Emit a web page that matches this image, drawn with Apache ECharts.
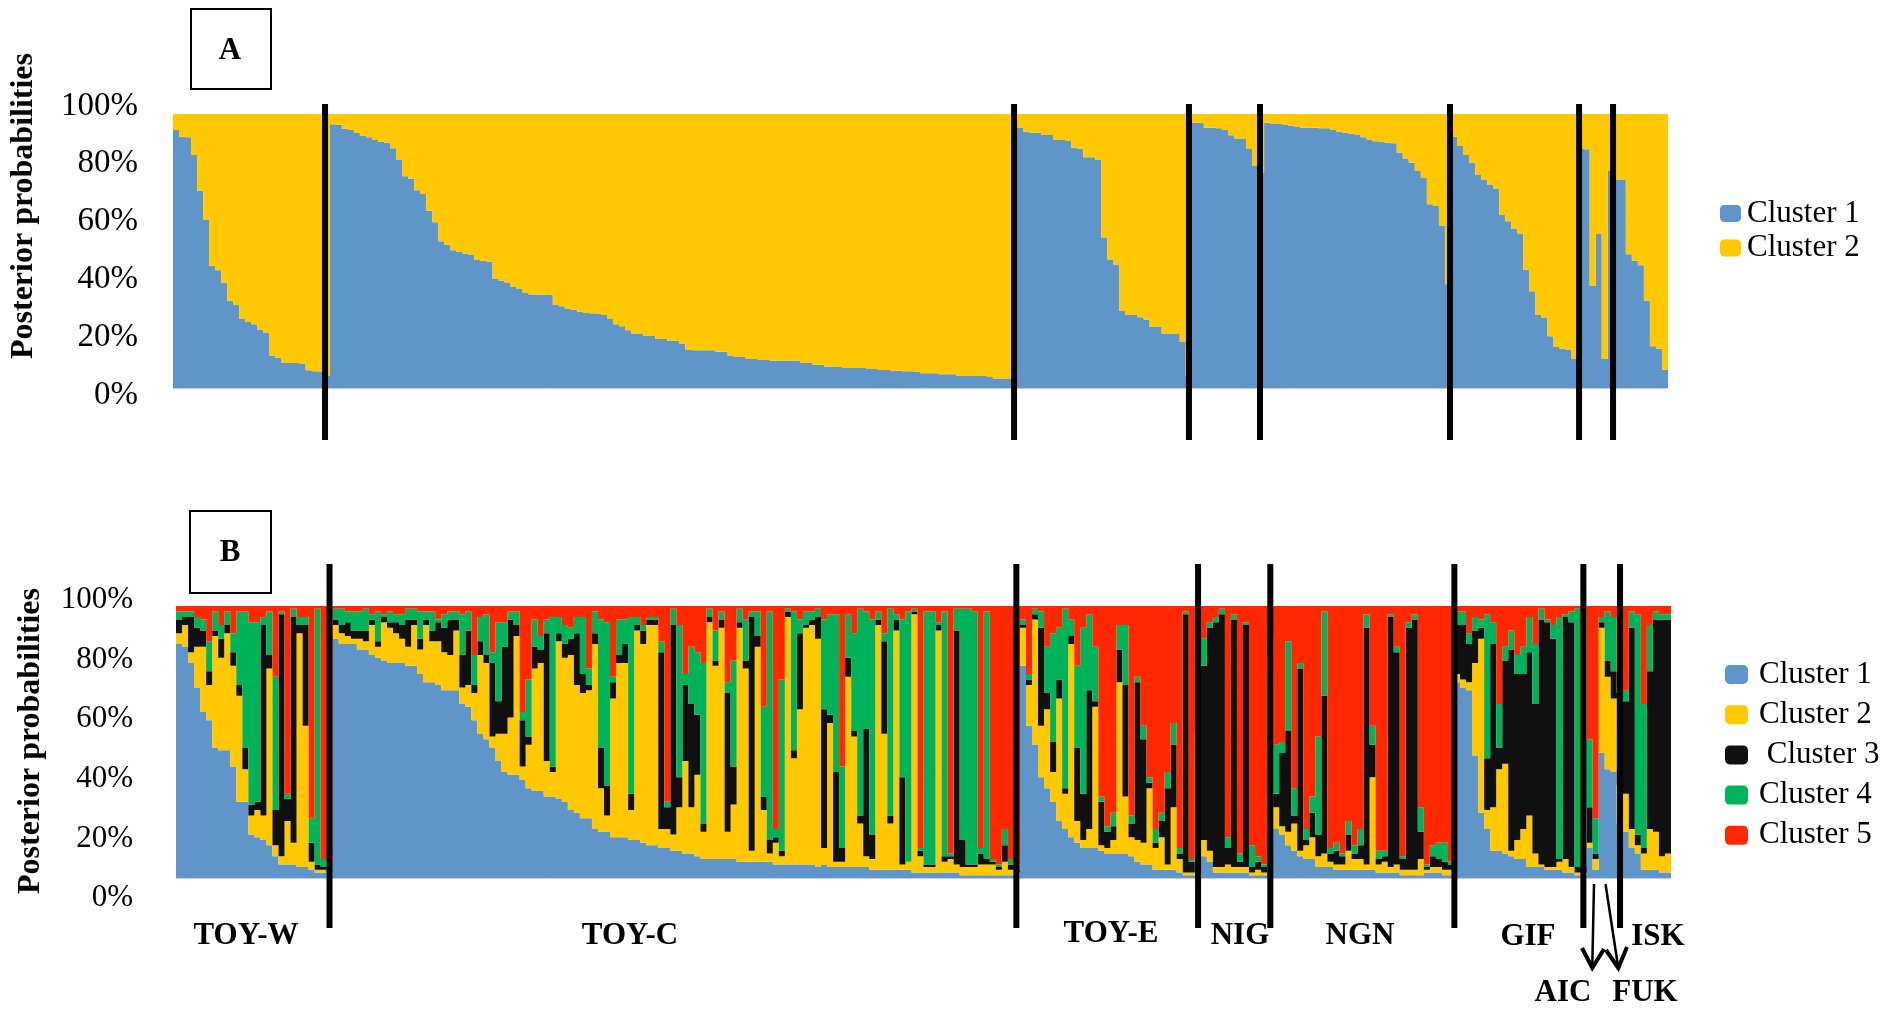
<!DOCTYPE html>
<html><head><meta charset="utf-8">
<script src="https://cdn.jsdelivr.net/npm/echarts@6/dist/echarts.min.js"></script>
<style>html,body{margin:0;padding:0;background:#fff}#main{width:1882px;height:1011px}</style>
</head><body><div id="main"></div>
<script>
// ---------- DATA ----------
const populations = ['TOY-W','TOY-C','TOY-E','NIG','NGN','GIF','AIC','FUK','ISK'];
const popSizes    = [26,114,29,12,31,21,3,3,9];
const yTickLabels = ['0%','20%','40%','60%','80%','100%'];
const clusterNamesA = ['Cluster 1','Cluster 2'];
const clusterNamesB = ['Cluster 1','Cluster 2',' Cluster 3','Cluster 4','Cluster 5'];

// Panel A (K = 2), posterior probability (%) per individual
const A_cluster1 = [
94.2,91.7,91.5,85.0,72.0,61.5,44.6,43.0,38.4,31.8,30.3,25.2,24.1,23.3,21.3,20.1,11.9,11.0,9.1,9.1,9.1,8.9,6.5,6.1,5.8,4.6,
96.3,96.1,94.6,94.2,93.1,92.0,91.5,90.5,89.9,89.5,87.5,83.4,77.3,76.4,72.2,70.8,64.7,60.5,53.6,52.3,50.3,49.7,49.1,48.5,46.7,46.4,46.2,39.8,39.1,38.5,36.9,36.1,34.7,34.1,34.0,33.9,33.9,30.3,29.8,29.0,28.6,27.8,27.4,27.3,27.2,26.6,25.2,23.3,22.5,21.1,19.9,19.7,19.1,19.0,17.9,17.9,
17.2,17.2,16.2,14.0,13.8,13.8,13.8,13.8,13.2,13.2,11.9,11.3,11.3,10.6,10.6,10.2,10.2,9.9,9.9,9.9,9.9,9.9,9.1,9.1,8.5,8.5,7.7,7.7,7.7,7.3,7.3,7.3,7.3,6.9,6.9,6.6,6.6,6.3,6.3,6.1,6.1,5.8,5.4,5.4,5.4,5.0,5.0,5.0,4.4,4.4,4.4,4.4,4.4,4.0,3.5,3.5,3.3,3.0,
95.1,93.5,93.2,93.2,92.3,92.3,90.5,90.5,90.3,87.7,87.3,84.2,84.2,83.2,54.9,46.9,45.1,28.1,26.6,26.6,25.8,25.0,22.3,22.3,19.9,19.9,19.9,16.8,4.5,
96.8,96.8,95.0,95.0,94.8,94.2,92.2,91.1,90.9,87.2,81.0,78.6,
96.8,96.5,96.5,96.2,95.7,95.4,95.0,95.0,95.0,94.8,94.8,94.2,93.5,93.2,92.8,92.3,91.5,90.7,90.1,89.9,89.5,89.3,85.9,83.8,82.2,79.2,76.6,67.1,66.4,59.3,37.9,
91.7,88.3,85.0,82.2,77.7,76.1,74.1,72.8,63.1,60.9,58.0,56.4,43.2,35.3,26.6,25.7,18.9,15.0,14.3,14.0,10.6,
87.5,87.1,37.3,
56.4,10.6,79.2,
76.1,76.1,48.8,46.4,44.8,31.8,15.2,14.3,6.7
];
const A_cluster2 = [
5.8,8.3,8.5,15.0,28.0,38.5,55.4,57.0,61.6,68.2,69.7,74.8,75.9,76.7,78.7,79.9,88.1,89.0,90.9,90.9,90.9,91.1,93.5,93.9,94.2,95.4,
3.7,3.9,5.4,5.8,6.9,8.0,8.5,9.5,10.1,10.5,12.5,16.6,22.7,23.6,27.8,29.2,35.3,39.5,46.4,47.7,49.7,50.3,50.9,51.5,53.3,53.6,53.8,60.2,60.9,61.5,63.1,63.9,65.3,65.9,66.0,66.1,66.1,69.7,70.2,71.0,71.4,72.2,72.6,72.7,72.8,73.4,74.8,76.7,77.5,78.9,80.1,80.3,80.9,81.0,82.1,82.1,
82.8,82.8,83.8,86.0,86.2,86.2,86.2,86.2,86.8,86.8,88.1,88.7,88.7,89.4,89.4,89.8,89.8,90.1,90.1,90.1,90.1,90.1,90.9,90.9,91.5,91.5,92.3,92.3,92.3,92.7,92.7,92.7,92.7,93.1,93.1,93.4,93.4,93.7,93.7,93.9,93.9,94.2,94.6,94.6,94.6,95.0,95.0,95.0,95.6,95.6,95.6,95.6,95.6,96.0,96.5,96.5,96.7,97.0,
4.9,6.5,6.8,6.8,7.7,7.7,9.5,9.5,9.7,12.3,12.7,15.8,15.8,16.8,45.1,53.1,54.9,71.9,73.4,73.4,74.2,75.0,77.7,77.7,80.1,80.1,80.1,83.2,95.5,
3.2,3.2,5.0,5.0,5.2,5.8,7.8,8.9,9.1,12.8,19.0,21.4,
3.2,3.5,3.5,3.8,4.3,4.6,5.0,5.0,5.0,5.2,5.2,5.8,6.5,6.8,7.2,7.7,8.5,9.3,9.9,10.1,10.5,10.7,14.1,16.2,17.8,20.8,23.4,32.9,33.6,40.7,62.1,
8.3,11.7,15.0,17.8,22.3,23.9,25.9,27.2,36.9,39.1,42.0,43.6,56.8,64.7,73.4,74.3,81.1,85.0,85.7,86.0,89.4,
12.5,12.9,62.7,
43.6,89.4,20.8,
23.9,23.9,51.2,53.6,55.2,68.2,84.8,85.7,93.3
];

// Panel B (K = 5)
const B_cluster1 = [
86,85,79,70,61,58,48,47,47,41,28,28,16,15,14,12,8,5,5,5,4,4,3,2,2,1,
88,86,86,86,84,84,82,81,80,79, 79,79,78,78,75,72,72,71,69,69, 69,64,63,58,53,51,48,43,39,38, 38,36,33,32,32,30,30,29,28,25, 24,22,22,18,17,17,15,15,15,14, 14,13,12,12,11,11,10,10,9,9, 8,7,7,7,7,7,7,6,6,6, 6,6,6,5,5,5,5,5,5,5, 4,5,4,4,4,4,4,4,4,3, 3,3,3,3,3,3,2,2,2,2, 2,2,2,2,1,1,1,1,1,1, 1,1,1,1,
78,56,49,37,33,28,21,18,15,13,11,11,11,10,9,9,9,9,8,6,5,5,3,3,3,3,2,1,1,
40,8,6,2,2,2,2,2,2,1,1,1,
72,18,16,12,10,8,7,7,4,4,4,3,3,3,3,3,3,3,2,2,2,2,1,1,1,1,2,2,2,1,1,
72,70,69,45,24,18,10,10,9,8,7,7,4,4,4,3,3,3,2,2,1,
1,11,3,
46,40,39,
20,17,11,9,3,3,3,2,2
];
const B_cluster2 = [
4,8,4,15,24,13,41,34,43,37,39,12,7,10,9,65,4,3,16,8,86,52,3,1,1,1,
5,4,3,2,4,3,11,4,14,13, 11,9,7,15,9,21,15,16,14,13, 22,6,8,10,29,28,4,10,14,21, 51,5,16,45,47,13,9,58,53,57, 47,46,47,68,16,6,51,64,64,11, 77,73,81,81,7,7,6,16,34,17, 30,10,87,71,85,10,20,86,71,4, 79,19,3,8,3,91,39,57,87,88, 84,6,53,2,2,70,48,16,4,4, 90,50,17,88,2,3,95,6,2,2, 89,4,5,3,3,3,3,4,4,4, 2,5,2,1,
14,15,46,19,29,11,45,13,71,8,3,7,52,2,2,5,63,21,7,8,8,28,8,12,2,23,5,1,1,
5,6,4,2,2,3,2,2,2,1,2,1,
10,8,3,5,10,2,5,8,4,5,2,2,2,7,4,4,2,34,3,4,2,3,2,2,2,6,1,2,2,2,2,
3,3,3,34,64,7,16,30,33,2,7,11,19,5,1,1,1,3,5,2,1,
1,2,4,
46,34,27,
14,14,7,3,6,15,14,6,7
];
const B_cluster3 = [
5,3,13,7,6,5,2,7,3,5,4,8,4,3,70,5,13,89,8,83,3,37,7,2,1,1,
2,3,5,3,3,4,2,2,2,2, 4,5,10,2,4,2,4,7,9,13, 4,12,20,3,5,3,27,12,32,36, 4,17,3,8,5,47,2,3,5,6, 19,7,2,4,15,11,6,3,7,6, 2,5,2,2,65,8,77,11,28,38, 22,3,2,2,3,51,14,2,3,86, 4,5,5,2,2,2,3,28,1,2, 8,51,3,33,5,7,2,3,47,9, 2,34,3,4,32,0,1,2,1,1, 2,2,1,86,10,1,1,4,2,1, 1,6,2,1,
1,2,2,36,6,11,7,2,3,27,17,51,2,16,6,5,12,41,5,58,38,2,2,6,28,23,2,95,4,
7,64,82,90,93,6,91,2,89,2,3,2,
4,5,27,37,3,67,2,9,8,58,3,5,3,6,2,5,87,12,2,2,92,78,4,89,92,10,1,4,3,3,2,
18,20,14,12,4,19,60,8,38,74,61,57,60,55,90,90,84,1,89,90,2,
2,13,2,
2,6,10,
34,34,74,4,2,58,78,87,86
];
const B_cluster4 = [
3,2,2,4,4,11,7,5,5,7,27,50,67,66,3,16,49,1,2,3,3,3,9,94,3,1,
4,6,4,7,7,8,2,11,1,4, 3,4,4,4,10,3,7,1,5,3, 3,15,7,11,9,15,4,29,9,3, 5,3,21,10,5,5,55,6,7,4, 6,21,6,8,47,60,2,13,9,65, 3,2,1,1,4,2,6,56,4,21, 23,59,3,11,3,4,39,5,15,2, 9,33,84,3,63,1,51,5,5,3, 3,33,37,58,30,16,36,76,43,79, 3,3,76,2,58,92,1,1,93,93, 1,90,1,8,85,94,93,2,91,1, 1,6,2,1,
2,2,2,6,17,40,19,66,6,30,61,28,20,2,2,5,9,22,3,2,5,2,5,3,6,8,2,1,1,
1,10,2,2,2,4,2,3,1,8,2,1,
3,18,4,33,10,2,4,6,36,31,2,3,1,5,3,6,5,7,3,2,1,2,1,2,2,9,1,4,6,7,1,
5,5,4,5,3,53,8,16,5,7,7,10,13,22,4,1,5,89,1,4,95,
95,25,13,
2,18,20,
4,4,6,81,53,17,3,2,2
];
const B_cluster5 = [
2,2,2,4,5,13,2,7,2,10,2,2,6,6,4,2,26,2,69,1,4,4,78,1,93,96,
1,1,2,2,2,1,3,2,3,2, 3,3,1,1,2,2,2,5,3,2, 2,3,2,18,4,3,17,6,6,2, 2,39,27,5,11,5,4,4,7,8, 4,4,23,2,5,6,26,5,5,4, 4,7,4,4,13,72,1,7,25,15, 17,21,1,9,2,28,20,1,5,2, 2,37,2,82,27,1,2,5,2,2, 1,5,3,3,59,3,10,1,2,5, 2,10,1,3,5,2,1,89,2,2, 6,2,91,1,1,1,2,89,2,93, 95,82,93,96,
5,25,1,2,15,10,8,1,5,22,8,3,15,70,81,76,7,7,77,26,44,63,82,76,61,43,89,2,93,
47,12,6,4,1,85,3,91,6,88,92,95,
11,51,50,13,67,21,82,70,48,2,89,87,91,79,88,82,3,44,90,90,3,15,92,6,3,74,95,88,87,87,94,
2,2,10,4,5,3,6,36,15,9,18,15,4,14,1,5,7,4,3,2,1,
1,49,78,
4,2,4,
28,31,2,3,36,7,2,3,3
];

// ---------- STYLE ----------
const COLORS = ['#5F95C9','#FFC800','#101010','#00B359','#FF2800'];
const SERIF = "'Liberation Serif','Times New Roman',serif";
// hand-drawn separators in the original sit a few px off the exact group boundaries
const sepShiftA = [-4.7,-2.9,-2.8,-4.1,-1,1.5,-0.7];
const sepShiftB = [-3.2,-3.6,3.3,3.2,0.4,2.8,3.3];

const individuals = [];
populations.forEach((p, i) => { for (let k = 1; k <= popSizes[i]; k++) individuals.push(p + '_' + k); });

const chart = echarts.init(document.getElementById('main'));

// large mode draws each series as one path -> no anti-aliasing seams between adjacent bars
function bar(name, data, color, axis, stack) {
  return { name, type: 'bar', stack, data, xAxisIndex: axis, yAxisIndex: axis,
    barCategoryGap: '0%', barGap: '0%', large: true, largeThreshold: 10,
    itemStyle: { color }, emphasis: { disabled: true }, silent: true, animation: false };
}
const catAxis = (grid) => ({ type: 'category', gridIndex: grid, data: individuals, boundaryGap: true,
  axisTick: { show: false }, axisLabel: { show: false },
  axisLine: { show: true, lineStyle: { color: '#cfcfcf', width: 1 } } });
const hiddenVal = (grid) => ({ type: 'value', gridIndex: grid, show: false, min: 0, max: 1 });
const plotY = (grid) => ({ type: 'value', gridIndex: grid, min: 0, max: 100, show: false });
const labelY = (grid, margin, size) => ({ type: 'value', gridIndex: grid, min: 0, max: 100, interval: 20,
  axisLine: { show: false }, axisTick: { show: false }, splitLine: { show: false },
  axisLabel: { margin, fontFamily: SERIF, fontSize: size, color: '#000',
    formatter: (v) => yTickLabels[Math.round(v / 20)] } });

const legendText = (pad) => ({ fontFamily: SERIF, fontSize: 31, color: '#000', lineHeight: 22, padding: [0, 0, 0, pad] });

const option = {
  backgroundColor: '#fff',
  animation: false,
  grid: [
    { left: 173, top: 114, width: 1495, height: 274 },
    { left: 173, top: 106, width: 1495, height: 289 },
    { left: 176, top: 606, width: 1495, height: 272 },
    { left: 176, top: 600, width: 1495, height: 298 }
  ],
  xAxis: [catAxis(0), hiddenVal(1), catAxis(2), hiddenVal(3)],
  yAxis: [plotY(0), labelY(1, 35, 33), plotY(2), labelY(3, 43, 31)],
  legend: [
    { orient: 'vertical', left: 1715, top: 193, itemWidth: 21, itemHeight: 17, itemGap: 3.6, icon: 'roundRect',
      selectedMode: false, data: clusterNamesA, textStyle: legendText(1) },
    { orient: 'vertical', left: 1720, top: 654, itemWidth: 23, itemHeight: 19, itemGap: 9.2, icon: 'roundRect',
      selectedMode: false, data: clusterNamesB, textStyle: legendText(6) }
  ],
  series: [
    bar(clusterNamesA[0], A_cluster1, COLORS[0], 0, 'A'),
    bar(clusterNamesA[1], A_cluster2, COLORS[1], 0, 'A'),
    bar(clusterNamesB[0], B_cluster1, COLORS[0], 2, 'B'),
    bar(clusterNamesB[1], B_cluster2, COLORS[1], 2, 'B'),
    bar(clusterNamesB[2], B_cluster3, COLORS[2], 2, 'B'),
    bar(clusterNamesB[3], B_cluster4, COLORS[3], 2, 'B'),
    bar(clusterNamesB[4], B_cluster5, COLORS[4], 2, 'B')
  ]
};
chart.setOption(option);

// ---------- ANNOTATIONS ----------
const g = [];
const txt = (text, x, y, size, bold, rot) => ({ type: 'text', x, y, rotation: rot || 0, z: 100, silent: true,
  style: { text, fill: '#000', font: (bold ? 'bold ' : '') + size + 'px ' + SERIF, textAlign: 'center', textVerticalAlign: 'middle', align: 'center', verticalAlign: 'middle' } });

// panel letter boxes
g.push({ type: 'rect', z: 100, silent: true, shape: { x: 191, y: 9, width: 80, height: 80 }, style: { fill: '#fff', stroke: '#000', lineWidth: 2 } });
g.push(txt('A', 230, 51, 31, true));
g.push({ type: 'rect', z: 100, silent: true, shape: { x: 190, y: 511, width: 81, height: 82 }, style: { fill: '#fff', stroke: '#000', lineWidth: 2 } });
g.push(txt('B', 230, 553, 31, true));

// axis titles
g.push(txt('Posterior probabilities', 24, 206, 32, true, Math.PI / 2));
g.push(txt('Posterior probabilities', 31, 741, 32, true, Math.PI / 2));

// population separators (between groups; AIC and FUK share one block)
function boundaryPx(axis, idx) {
  const a = chart.convertToPixel({ xAxisIndex: axis }, individuals[idx - 1]);
  const b = chart.convertToPixel({ xAxisIndex: axis }, individuals[idx]);
  return (a + b) / 2;
}
let acc = 0, s = 0;
popSizes.forEach((n, i) => {
  acc += n;
  if (i === popSizes.length - 1 || populations[i] === 'AIC') return;
  const xa = boundaryPx(0, acc) + sepShiftA[s], xb = boundaryPx(2, acc) + sepShiftB[s];
  s++;
  g.push({ type: 'line', z: 110, silent: true, shape: { x1: xa, y1: 104, x2: xa, y2: 440 }, style: { stroke: '#000', lineWidth: 6 } });
  g.push({ type: 'line', z: 110, silent: true, shape: { x1: xb, y1: 564, x2: xb, y2: 928 }, style: { stroke: '#000', lineWidth: 6 } });
});

// population names
const popLabelPos = { 'TOY-W': [246, 936], 'TOY-C': [630, 936], 'TOY-E': [1111, 934], 'NIG': [1240, 936],
  'NGN': [1360, 936], 'GIF': [1528, 937], 'ISK': [1658, 937], 'AIC': [1563, 993], 'FUK': [1645, 993] };
populations.forEach(p => { const q = popLabelPos[p]; g.push(txt(p, q[0], q[1], 31, true)); });

// arrows to AIC and FUK
const arrowStyle = (w) => ({ stroke: '#000', lineWidth: w, fill: null, lineCap: 'butt', lineJoin: 'miter' });
g.push({ type: 'line', z: 110, silent: true, shape: { x1: 1594, y1: 884, x2: 1592.3, y2: 966 }, style: arrowStyle(2.5) });
g.push({ type: 'polyline', z: 110, silent: true, shape: { points: [[1582, 948], [1592.3, 968], [1604, 949]] }, style: arrowStyle(4) });
g.push({ type: 'line', z: 110, silent: true, shape: { x1: 1605.5, y1: 884, x2: 1618, y2: 966 }, style: arrowStyle(2.5) });
g.push({ type: 'polyline', z: 110, silent: true, shape: { points: [[1606, 950], [1618.3, 968], [1627, 947]] }, style: arrowStyle(4) });

chart.setOption({ graphic: g });
</script>
</body></html>
